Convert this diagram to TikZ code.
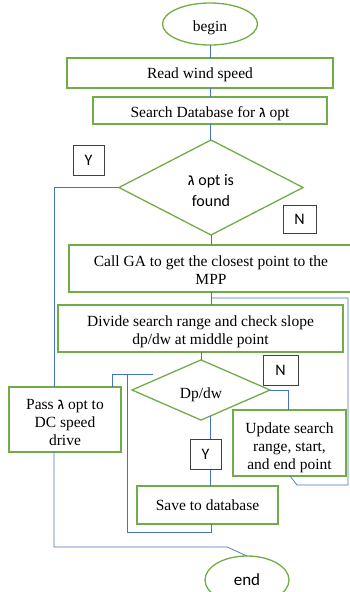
\documentclass[tikz,border=0pt]{standalone}
\usepackage{fontspec}
\setmainfont{Liberation Serif}
\newfontfamily\labelfont{Carlito}
\newfontfamily\hebfont[Script=Hebrew]{Liberation Sans}
\usetikzlibrary{shapes.geometric,calc}
\definecolor{boxgreen}{HTML}{70AD47}
\definecolor{flowblue}{HTML}{4472C4}
\definecolor{tagline}{HTML}{404040}
\newcommand{\gml}{{\hebfont ג}}
% centred lines of text, set a little below the middle of their box
\newcommand{\drop}[2][3.5pt]{\raisebox{-#1}[\height][\depth]{\begin{tabular}{@{}c@{}}#2\end{tabular}}}
\begin{document}
\begin{tikzpicture}[x=1pt,y=-1pt,
  every node/.style={inner sep=0pt,outer sep=0pt},
  procbox/.style={draw=boxgreen,line width=1.3pt,fill=white,
    font=\fontsize{15.5}{18}\selectfont},
  termbox/.style={procbox,ellipse},
  decbox/.style={draw=boxgreen,line width=1.3pt,fill=white,diamond},
  tagbox/.style={draw=tagline,line width=0.8pt,fill=white,
    minimum width=31pt,minimum height=30pt,font=\labelfont\fontsize{16}{18}\selectfont},
  flow/.style={draw=flowblue,line width=0.7pt}]
\useasboundingbox (0,0) rectangle (350,592);

% terminals
\node[termbox,minimum width=95pt,minimum height=42pt] (begin) at (210,24) {\drop{begin}};
\node[termbox,minimum width=84pt,minimum height=48pt,font=\labelfont\fontsize{17}{18}\selectfont] (finish) at (247,580) {end};

% process boxes
\node[procbox,minimum width=266pt,minimum height=30pt] (read) at (200,73) {\drop[2pt]{Read wind speed}};
\node[procbox,minimum width=234pt,minimum height=27pt] (search) at (210,110.5) {\drop{Search Database for \gml{} opt}};
\node[decbox,minimum width=184pt,minimum height=95pt,font=\labelfont\fontsize{16}{21}\selectfont] (found) at (211,187.5) {\drop[4pt]{\gml{} opt is\\found}};
\node[procbox,minimum width=284pt,minimum height=47pt] (callga) at (211,268.5) {\drop{Call GA to get the closest point to the\\MPP}};
\node[procbox,minimum width=285pt,minimum height=47pt] (divide) at (200.5,328.5) {\drop{Divide search range and check slope\\dp/dw at middle point}};
\node[decbox,minimum width=138pt,minimum height=56pt,font=\fontsize{15.5}{18}\selectfont] (slope) at (201,390) {\drop[4.5pt]{Dp/dw}};
\node[procbox,minimum width=112pt,minimum height=65pt] (pass) at (65,419.5) {\drop[4pt]{Pass \gml{} opt to\\DC speed\\drive}};
\node[procbox,minimum width=113pt,minimum height=66pt] (update) at (289.5,443) {\drop[4.5pt]{Update search\\range, start,\\and end point}};
\node[procbox,minimum width=141pt,minimum height=38pt] (save) at (207.5,505) {\drop[1.5pt]{Save to database}};

% routing points
\coordinate (ybend) at (54,187.5);
\coordinate (endbend) at (227,547);
\coordinate (loopa) at (297,485);
\coordinate (loopb) at (348,485);
\coordinate (loopc) at (348,298);
\coordinate (loopd) at (211,298);
\coordinate (slopeout) at ($(slope.south)!0.14!(slope.east)$);
\coordinate (savea) at (211,532);
\coordinate (saveb) at (127,532);
\coordinate (savec) at (127,374);
\coordinate (stubl) at (112,374);
\coordinate (stubr) at (153,374);

% connectors
\begin{scope}[on background layer/.try]
\draw[flow] (begin.south) -- (begin.south |- read.north);
\draw[flow] (search.north) -- (search.north |- read.south);
\draw[flow] (search.south) -- (search.south |- found.north);
\draw[flow] (found.south) -- (found.south |- callga.north);
\draw[flow] (found.west) -- (ybend) -- ([xshift=-11pt]pass.north);
\draw[flow] ([xshift=-11pt]pass.south) |- (endbend) -- (finish.north);
\draw[flow] (loopd |- callga.south) -- (loopd |- divide.north);
\draw[flow] ([xshift=0.5pt]update.south) -- (loopa) -- (loopb) -- (loopc) -- (loopd);
\draw[flow] (slope.north) -- (slope.north |- divide.south);
\draw[flow] (slope.east) -| ([xshift=-1.5pt]update.north);
\draw[flow] (slopeout) -- (slopeout |- save.north);
\draw[flow] (save.south -| savea) -- (savea) -- (saveb) -- (savec);
\draw[flow] (stubr) -- (stubl) -- (stubl |- pass.north);
\end{scope}

% branch tags
\node[tagbox] (tagyes) at (88.5,160) {Y};
\node[tagbox,minimum width=33pt,minimum height=28pt] (tagno) at (299.5,219) {N};
\node[tagbox,minimum width=35pt] (tagno2) at (280.5,370) {N};
\node[tagbox] (tagyes2) at (205.5,454) {Y};
\end{tikzpicture}
\end{document}
